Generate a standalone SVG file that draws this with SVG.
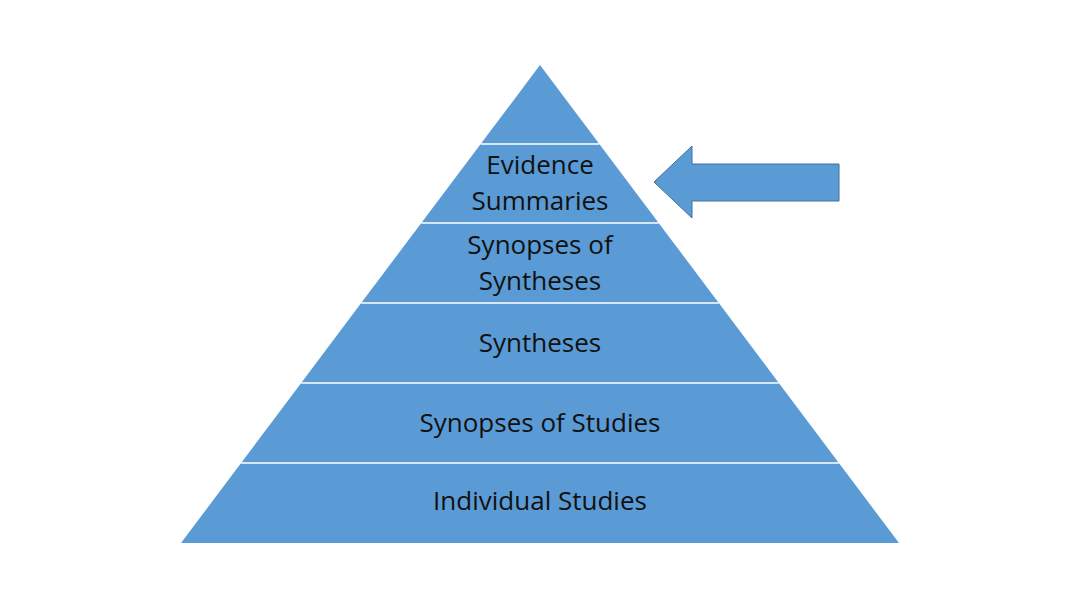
<svg xmlns="http://www.w3.org/2000/svg" width="1080" height="607" viewBox="0 0 1080 607">
<style>
.l{fill:#5b9bd5}
.t{font-family:"Open Sans","Liberation Sans",sans-serif;font-size:26px;fill:#111;text-anchor:middle}
.sep{stroke:#fff;stroke-width:1.5}
</style>
<rect width="1080" height="607" fill="#fff"/>
<g id="layer0"><polygon class="l" points="540,65 599.3,144 480.7,144"/></g>
<g id="layer1"><polygon class="l" points="480.7,144 599.3,144 658.7,223 421.3,223"/><text class="t" x="540" y="174">Evidence</text><text class="t" x="540" y="210">Summaries</text></g>
<g id="layer2"><polygon class="l" points="421.3,223 658.7,223 718.8,303 361.2,303"/><text class="t" x="540" y="254">Synopses of</text><text class="t" x="540" y="290">Syntheses</text></g>
<g id="layer3"><polygon class="l" points="361.2,303 718.8,303 778.8,383 301.2,383"/><text class="t" x="540" y="352">Syntheses</text></g>
<g id="layer4"><polygon class="l" points="301.2,383 778.8,383 838.9,463 241.1,463"/><text class="t" x="540" y="432">Synopses of Studies</text></g>
<g id="layer5"><polygon class="l" points="241.1,463 838.9,463 899,543 181,543"/><text class="t" x="540" y="510">Individual Studies</text></g>
<g id="connectors">
<line class="sep" x1="480.7" y1="144" x2="599.3" y2="144"/>
<line class="sep" x1="421.3" y1="223" x2="658.7" y2="223"/>
<line class="sep" x1="361.2" y1="303" x2="718.8" y2="303"/>
<line class="sep" x1="301.2" y1="383" x2="778.8" y2="383"/>
<line class="sep" x1="241.1" y1="463" x2="838.9" y2="463"/>
</g>
<g id="arrow"><polygon points="654,182 692,146 692,164 839,164 839,201 692,201 692,218" fill="#5b9bd5" stroke="#41719c" stroke-width="1"/></g>
</svg>
